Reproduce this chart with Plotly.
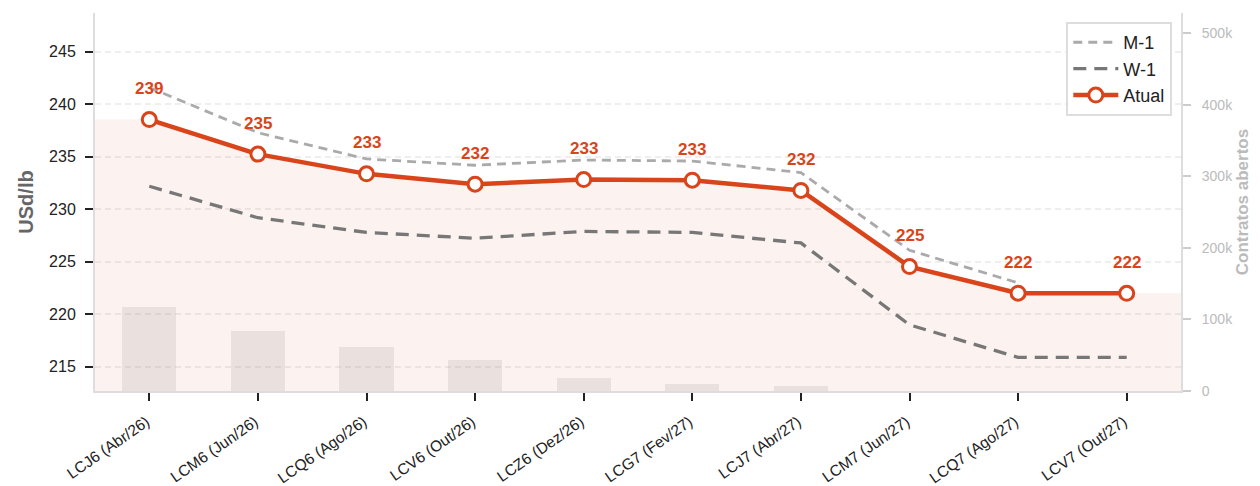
import plotly.graph_objects as go

categories = ["LCJ6 (Abr/26)", "LCM6 (Jun/26)", "LCQ6 (Ago/26)", "LCV6 (Out/26)", "LCZ6 (Dez/26)",
              "LCG7 (Fev/27)", "LCJ7 (Abr/27)", "LCM7 (Jun/27)", "LCQ7 (Ago/27)", "LCV7 (Out/27)"]
atual = [238.55, 235.26, 233.38, 232.4, 232.84, 232.78, 231.8, 224.55, 222.02, 222.0]
m1 = [241.6, 237.3, 234.8, 234.2, 234.7, 234.6, 233.5, 226.1, 223.0, None]
w1 = [232.2, 229.2, 227.8, 227.25, 227.9, 227.8, 226.8, 219.0, 215.9, 215.9]
open_interest = [117000, 84000, 62000, 43000, 17700, 9800, 7000, 400, 200, 100]

xs = list(range(len(categories)))
ORANGE = "#d9441a"
FONT = "Liberation Sans, Arial, sans-serif"

fig = go.Figure()

# open interest bars (base axis, right side)
fig.add_trace(go.Bar(x=xs, y=open_interest, width=0.5, marker=dict(color="rgba(160,160,160,0.2)", line=dict(width=0)),
                     showlegend=False, hoverinfo="skip", yaxis="y"))

# fill under current curve, extended to plot edges
fill_x = [-0.5] + xs + [9.5]
fill_y = [atual[0]] + atual + [atual[-1]]
fig.add_trace(go.Scatter(x=fill_x, y=fill_y, mode="lines", line=dict(width=0), fill="tozeroy",
                         fillcolor="rgba(217,68,26,0.07)", showlegend=False, hoverinfo="skip", yaxis="y2"))

fig.add_trace(go.Scatter(x=xs, y=m1, mode="lines", name="M-1",
                         line=dict(color="#aaaaaa", width=2.8, dash="9px,6px"), yaxis="y2"))
fig.add_trace(go.Scatter(x=xs, y=w1, mode="lines", name="W-1",
                         line=dict(color="#777777", width=3.3, dash="13px,8px"), yaxis="y2"))
fig.add_trace(go.Scatter(x=xs, y=atual, mode="lines+markers", name="Atual",
                         line=dict(color=ORANGE, width=4.5),
                         marker=dict(size=14, color="white", line=dict(color=ORANGE, width=3)),
                         yaxis="y2"))

annotations = []
for x, v in zip(xs, atual):
    annotations.append(dict(x=x, y=v, xref="x", yref="y2", text=f"<b>{v:.0f}</b>", showarrow=False,
                            yshift=31, font=dict(color=ORANGE, size=17, family=FONT)))

# page body has an 8px margin; offset the figure so the plot area lands where the reference has it
fig.update_layout(
    width=1252, height=478,
    margin=dict(l=87, r=79, t=5, b=95, autoexpand=False),
    paper_bgcolor="white", plot_bgcolor="white",
    font=dict(family=FONT, size=16, color="#222222"),
    bargap=0,
    annotations=annotations,
    xaxis=dict(range=[-0.5, 9.5], tickmode="array", tickvals=xs, ticktext=categories,
               tickangle=-35, tickfont=dict(size=15.5, color="#222222"), automargin=False,
               ticks="outside", ticklen=8, tickwidth=2, tickcolor="#222222",
               ticklabelstandoff=6, ticklabelshift=-3,
               showline=True, linecolor="#dddddd", linewidth=2, showgrid=False, zeroline=False),
    yaxis=dict(side="right", range=[0, 528000], tickvals=[0, 100000, 200000, 300000, 400000, 500000],
               ticktext=["0", "100k", "200k", "300k", "400k", "500k"], automargin=False,
               tickfont=dict(size=14, color="#bbbbbb"), ticks="outside", ticklen=8, tickwidth=1.5,
               tickcolor="#cccccc", showline=True, linecolor="#dddddd", linewidth=2, ticklabelstandoff=8,
               showgrid=False, zeroline=False,
               title=dict(text="Contratos abertos", font=dict(size=17, color="#bbbbbb", weight="bold"), standoff=4)),
    yaxis2=dict(side="left", overlaying="y", range=[212.7, 248.7], tickvals=[215, 220, 225, 230, 235, 240, 245],
                tickfont=dict(size=16, color="#222222"), ticks="outside", ticklen=8, tickwidth=2, automargin=False,
                tickcolor="#222222", showline=True, linecolor="#dddddd", linewidth=2, ticklabelstandoff=6,
                showgrid=True, gridcolor="rgba(200,200,200,0.3)", griddash="6px,4px", gridwidth=1.5,
                zeroline=False,
                title=dict(text="USd/lb", font=dict(size=20, color="#666666", weight="bold"), standoff=10)),
    legend=dict(x=0.992, y=0.976, xanchor="right", yanchor="top", bgcolor="white",
                bordercolor="#dddddd", borderwidth=2, font=dict(size=18, color="#222222"),
                tracegroupgap=2, itemwidth=45),
)

fig.write_html("out.html")
